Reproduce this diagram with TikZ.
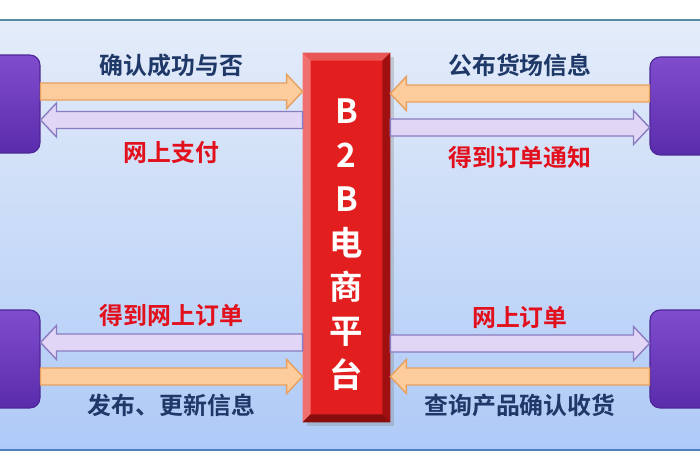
\documentclass[tikz,border=0pt]{standalone}
\usepackage{fontspec}
\newfontfamily\cjk{Noto Sans CJK SC}[BoldFont={Noto Sans CJK SC Bold}]
\usepackage{tikz}
\usetikzlibrary{positioning, calc, shadows}
\definecolor{panetop}{RGB}{228, 236, 249}
\definecolor{panebottom}{RGB}{174, 202, 247}
\definecolor{paneline}{RGB}{88, 138, 160}
\definecolor{panelow}{RGB}{80, 128, 192}
\definecolor{boxtop}{RGB}{128, 76, 206}
\definecolor{boxbottom}{RGB}{90, 44, 172}
\definecolor{boxedge}{RGB}{76, 38, 150}
\definecolor{peachfill}{RGB}{252, 204, 156}
\definecolor{peachedge}{RGB}{232, 160, 96}
\definecolor{lilacfill}{RGB}{226, 214, 246}
\definecolor{lilacedge}{RGB}{138, 124, 192}
\definecolor{platred}{RGB}{226, 30, 30}
\definecolor{platlight}{RGB}{240, 112, 112}
\definecolor{platdark}{RGB}{160, 16, 16}
\definecolor{labelblue}{RGB}{30, 56, 104}
\definecolor{labelred}{RGB}{226, 16, 28}

\newcommand{\flowarrow}[3]{%
  \coordinate (hb) at ($(#3)!0.32cm!(#2)$);
  \draw[#1] ($(#2)+(0,-8.5)$) -- ($(hb)+(0,-8.5)$) -- ($(hb)+(0,-17)$) -- (#3)
    -- ($(hb)+(0,17)$) -- ($(hb)+(0,8.5)$) -- ($(#2)+(0,8.5)$) -- cycle;
}

\begin{document}
\begin{tikzpicture}[
    x=0.02cm, y=-0.02cm,
    party/.style={
        rectangle,
        rounded corners=0.2cm,
        minimum width=2cm,
        minimum height=1.96cm,
        top color=boxtop,
        bottom color=boxbottom,
        draw=boxedge,
        line width=0.6pt
    },
    platform/.style={
        rectangle,
        fill=platred,
        minimum width=1.74cm,
        minimum height=7.38cm,
        inner sep=0pt,
        drop shadow={opacity=0.3}
    },
    peachflow/.style={fill=peachfill, draw=peachedge, line width=0.8pt},
    lilacflow/.style={fill=lilacfill, draw=lilacedge, line width=0.8pt},
    bluetext/.style={font=\cjk\bfseries\fontsize{13.6}{16}\selectfont, text=labelblue},
    redtext/.style={bluetext, text=labelred}
]
    \clip (0,0) rectangle (700,470);

    % Background panel
    \shade[top color=panetop, bottom color=panebottom] (0,20) rectangle (700,450);
    \draw[paneline, line width=1pt] (0,20) -- (700,20);
    \draw[panelow, line width=1pt] (0,450) -- (700,450);

    % Side boxes
    \node[party] (ltbox) at (-10,104) {};
    \node[party] (lbbox) at (-10,359) {};
    \node[party] (rtbox) at (700,106) {};
    \node[party] (rbbox) at (700,359) {};

    % Platform
    \node[platform] (plat) at (346.5,237.5) {};
    \fill[platred!75!white] (plat.north west) -- ($(plat.north west)+(8,8)$) -- ($(plat.north east)+(-8,8)$) -- (plat.north east) -- cycle;
    \fill[platlight] (plat.north west) -- ($(plat.north west)+(8,8)$) -- ($(plat.south west)+(8,-8)$) -- (plat.south west) -- cycle;
    \fill[platdark] (plat.north east) -- ($(plat.north east)+(-8,8)$) -- ($(plat.south east)+(-8,-8)$) -- (plat.south east) -- cycle;
    \fill[platdark!85!black] (plat.south west) -- ($(plat.south west)+(8,-8)$) -- ($(plat.south east)+(-8,-8)$) -- (plat.south east) -- cycle;
    \node[font=\cjk\bfseries\fontsize{19}{25}\selectfont, text=white, align=center] (platname)
        at ($(plat.center)+(0,7)$) {B\\2\\B\\电\\商\\平\\台};

    % Top left flows
    \coordinate (tl1) at ($(ltbox.east)+(0,-12.5)$);
    \coordinate (tl1p) at (plat.west |- tl1);
    \coordinate (tl2) at ($(ltbox.east)+(0,16)$);
    \coordinate (tl2p) at (plat.west |- tl2);
    \flowarrow{peachflow}{tl1}{tl1p}
    \flowarrow{lilacflow}{tl2p}{tl2}
    \node[bluetext] (tl1lab) at ($(tl1)!0.5!(tl1p)+(0,-26.5)$) {确认成功与否};
    \node[redtext] (tl2lab) at ($(tl2)!0.5!(tl2p)+(0,32)$) {网上支付};

    % Top right flows
    \coordinate (tr1) at ($(rtbox.west)+(0,-12.5)$);
    \coordinate (tr1p) at (plat.east |- tr1);
    \coordinate (tr2) at ($(rtbox.west)+(0,21.5)$);
    \coordinate (tr2p) at (plat.east |- tr2);
    \flowarrow{peachflow}{tr1}{tr1p}
    \flowarrow{lilacflow}{tr2p}{tr2}
    \node[bluetext] (tr1lab) at ($(tr1)!0.5!(tr1p)+(0,-28.5)$) {公布货场信息};
    \node[redtext] (tr2lab) at ($(tr2)!0.5!(tr2p)+(0,29.5)$) {得到订单通知};

    % Bottom left flows
    \coordinate (bl1) at ($(lbbox.east)+(0,-16.5)$);
    \coordinate (bl1p) at (plat.west |- bl1);
    \coordinate (bl2) at ($(lbbox.east)+(0,17.5)$);
    \coordinate (bl2p) at (plat.west |- bl2);
    \flowarrow{lilacflow}{bl1p}{bl1}
    \flowarrow{peachflow}{bl2}{bl2p}
    \node[redtext] (bl1lab) at ($(bl1)!0.5!(bl1p)+(0,-27.5)$) {得到网上订单};
    \node[bluetext] (bl2lab) at ($(bl2)!0.5!(bl2p)+(0,28.5)$) {发布、更新信息};

    % Bottom right flows
    \coordinate (br1) at ($(rbbox.west)+(0,-15.5)$);
    \coordinate (br1p) at (plat.east |- br1);
    \coordinate (br2) at ($(rbbox.west)+(0,17.5)$);
    \coordinate (br2p) at (plat.east |- br2);
    \flowarrow{lilacflow}{br1p}{br1}
    \flowarrow{peachflow}{br2}{br2p}
    \node[redtext] (br1lab) at ($(br1)!0.5!(br1p)+(0,-26.5)$) {网上订单};
    \node[bluetext] (br2lab) at ($(br2)!0.5!(br2p)+(0,28.5)$) {查询产品确认收货};
\end{tikzpicture}
\end{document}
